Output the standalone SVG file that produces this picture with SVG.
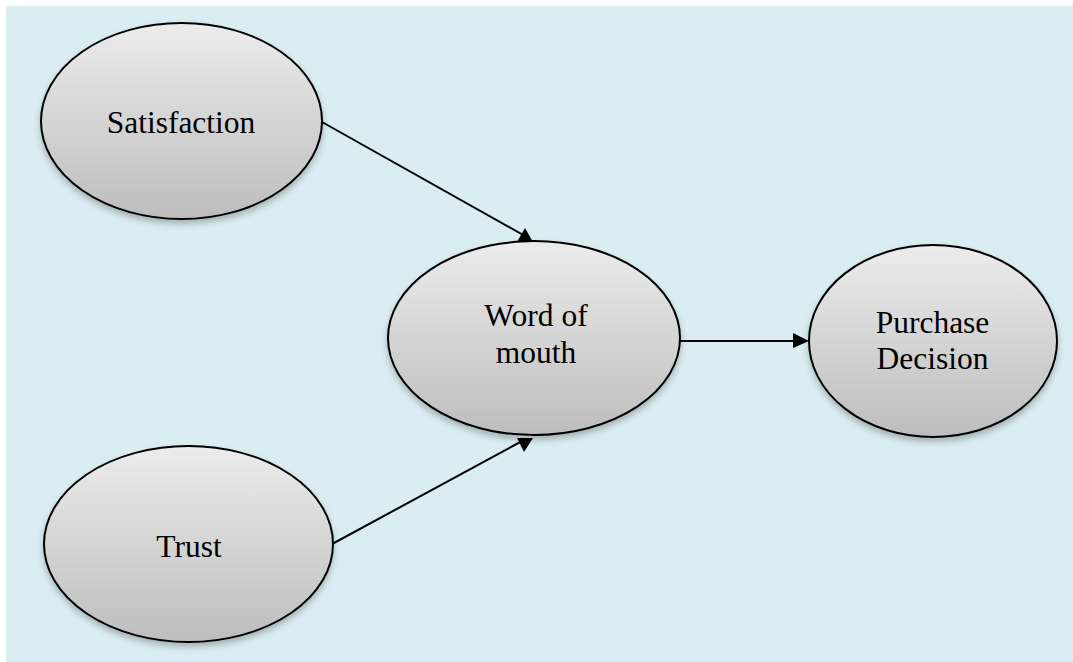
<svg xmlns="http://www.w3.org/2000/svg" width="1073" height="662" viewBox="0 0 1073 662">
<defs>
<linearGradient id="g" x1="0" y1="0" x2="0" y2="1">
<stop offset="0" stop-color="#ececec"/>
<stop offset="1" stop-color="#bdbdbd"/>
</linearGradient>
<filter id="sh" x="-20%" y="-20%" width="140%" height="150%">
<feDropShadow dx="0" dy="4" stdDeviation="3" flood-color="#000" flood-opacity="0.25"/>
</filter>
<style>
.n{fill:url(#g);stroke:#000;stroke-width:2;filter:url(#sh)}
.t{font-family:"Liberation Serif","Times New Roman",serif;font-size:31.5px;fill:#000;text-anchor:middle}
.c{stroke:#000;stroke-width:2;fill:none}
.h{fill:#000}
</style>
</defs>
<rect x="0" y="0" width="1073" height="662" fill="#fff"/>
<rect x="6" y="6" width="1067" height="656" fill="#daedf3"/>
<g id="connectors">
<line class="c" x1="322" y1="122" x2="525" y2="236"/>
<polygon class="h" points="525,228 517,242 533,242"/>
<line class="c" x1="334" y1="543" x2="524" y2="440"/>
<polygon class="h" points="517,438 533,438 524,452"/>
<line class="c" x1="680" y1="341" x2="795" y2="341"/>
<polygon class="h" points="793,333 809,341 793,348"/>
</g>
<g id="satisfaction">
<ellipse class="n" cx="181.5" cy="121" rx="140.5" ry="98"/>
<text class="t" x="181" y="133">Satisfaction</text>
</g>
<g id="trust">
<ellipse class="n" cx="188.5" cy="544" rx="144.5" ry="98"/>
<text class="t" x="189" y="557">Trust</text>
</g>
<g id="word-of-mouth">
<ellipse class="n" cx="534" cy="338" rx="146" ry="97"/>
<text class="t" x="536" y="326">Word of</text>
<text class="t" x="536" y="363">mouth</text>
</g>
<g id="purchase-decision">
<ellipse class="n" cx="933" cy="341" rx="124" ry="96"/>
<text class="t" x="932.5" y="333">Purchase</text>
<text class="t" x="932.5" y="369">Decision</text>
</g>
</svg>
